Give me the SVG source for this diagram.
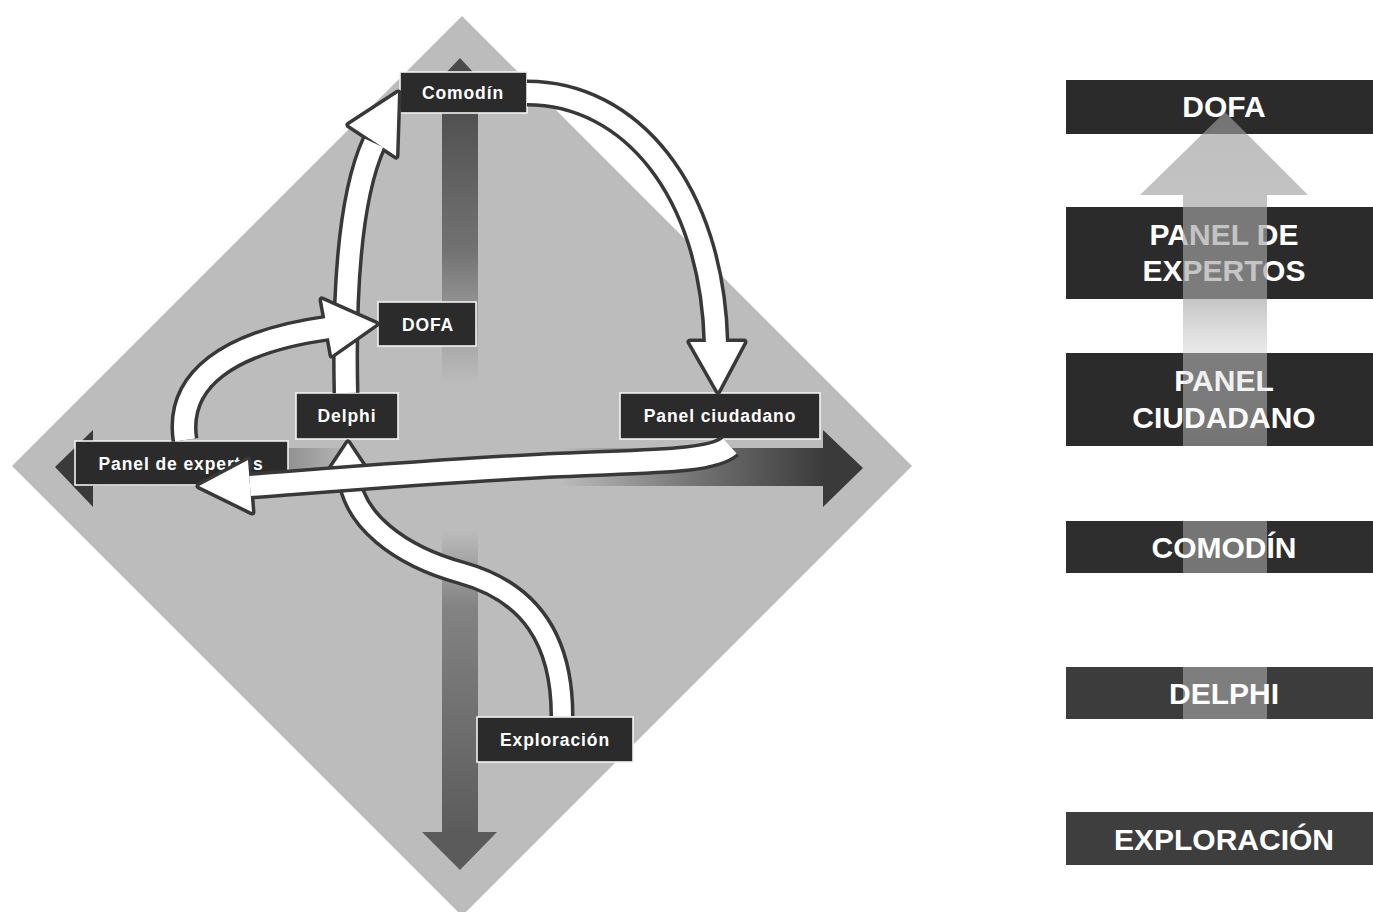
<svg xmlns="http://www.w3.org/2000/svg" width="1373" height="912" viewBox="0 0 1373 912">
<style>
.lbl rect{fill:#2b2b2b;stroke:#f2f2f2;stroke-width:1.6}
.lbl text{fill:#fff;font-family:"Liberation Sans",Arial,sans-serif;font-weight:bold;font-size:17.5px;letter-spacing:0.9px;text-anchor:middle}
.ol{fill:none;stroke:#383838;stroke-width:27}
.wl{fill:none;stroke:#fff;stroke-width:20}
.hol{fill:#383838;stroke:#383838;stroke-width:7;stroke-linejoin:round}
.hw{fill:#fff}
.bar rect{fill:#2b2b2b}
.bar text{fill:#fff;font-family:"Liberation Sans",Arial,sans-serif;font-weight:bold;font-size:30px;text-anchor:middle}
</style>
<defs>
<linearGradient id="gvTop" gradientUnits="userSpaceOnUse" x1="0" y1="90" x2="0" y2="385">
<stop offset="0" stop-color="#4a4a4a" stop-opacity="1"/>
<stop offset="0.55" stop-color="#5a5a5a" stop-opacity="0.75"/>
<stop offset="1" stop-color="#6a6a6a" stop-opacity="0"/>
</linearGradient>
<linearGradient id="gvBot" gradientUnits="userSpaceOnUse" x1="0" y1="530" x2="0" y2="835">
<stop offset="0" stop-color="#4a4a4a" stop-opacity="0"/>
<stop offset="0.25" stop-color="#4a4a4a" stop-opacity="0.5"/>
<stop offset="1" stop-color="#4a4a4a" stop-opacity="0.85"/>
</linearGradient>
<linearGradient id="ghRight" gradientUnits="userSpaceOnUse" x1="560" y1="0" x2="825" y2="0">
<stop offset="0" stop-color="#3a3a3a" stop-opacity="0"/>
<stop offset="0.5" stop-color="#3a3a3a" stop-opacity="0.55"/>
<stop offset="1" stop-color="#3a3a3a" stop-opacity="1"/>
</linearGradient>
<linearGradient id="ghLeft" gradientUnits="userSpaceOnUse" x1="93" y1="0" x2="355" y2="0">
<stop offset="0" stop-color="#3a3a3a" stop-opacity="1"/>
<stop offset="0.6" stop-color="#4a4a4a" stop-opacity="0.6"/>
<stop offset="1" stop-color="#4a4a4a" stop-opacity="0"/>
</linearGradient>
<linearGradient id="gUp" gradientUnits="userSpaceOnUse" x1="0" y1="112" x2="0" y2="720">
<stop offset="0" stop-color="#9c9c9c" stop-opacity="0.65"/>
<stop offset="0.31" stop-color="#a8a8a8" stop-opacity="0.65"/>
<stop offset="0.39" stop-color="#d0d0d0" stop-opacity="0.5"/>
<stop offset="0.56" stop-color="#ffffff" stop-opacity="0.34"/>
<stop offset="1" stop-color="#ffffff" stop-opacity="0.34"/>
</linearGradient>
</defs>
<rect width="1373" height="912" fill="#ffffff"/>

<polygon id="diamond" points="462,16 912,466 462,916 12,466" fill="#bcbcbc"/>

<g id="axes">
<polygon points="460,58 497,98 478,98 478,385 442,385 442,98 422,98" fill="url(#gvTop)"/>
<polygon points="442,530 478,530 478,832 497,832 460,870 422,832 442,832" fill="url(#gvBot)"/>
<polygon points="560,448 823,448 823,430 863,468 823,507 823,486 560,486" fill="url(#ghRight)"/>
<polygon points="355,448 93,448 93,430 55,467 93,507 93,486 355,486" fill="url(#ghLeft)"/>
</g>

<g id="node-comodin" class="lbl"><rect x="400" y="72" width="127" height="41"/><text x="463" y="99">Comodín</text></g>
<g id="node-dofa" class="lbl"><rect x="378" y="302" width="98" height="44"/><text x="428" y="331">DOFA</text></g>
<g id="node-delphi" class="lbl"><rect x="296" y="393" width="102" height="46"/><text x="347" y="422">Delphi</text></g>
<g id="node-exploracion" class="lbl"><rect x="477" y="717" width="156" height="45"/><text x="555" y="746">Exploración</text></g>
<g id="node-panel-expertos" class="lbl"><rect x="75" y="441" width="213" height="44"/><text x="181" y="470">Panel de expertos</text></g>
<g id="node-panel-ciudadano" class="lbl"><rect x="620" y="393" width="200" height="46"/><text x="720" y="422">Panel ciudadano</text></g>

<g id="connectors">
<g id="c-exploracion-delphi">
<path class="ol" style="stroke-width:25" d="M 562 716 C 562 640, 530 592, 462 573 C 400 556, 352 520, 349 474"/>
<polygon class="hol" points="348,443 370,476 326,476"/>
<path class="wl" style="stroke-width:18" d="M 562 716 C 562 640, 530 592, 462 573 C 400 556, 352 520, 349 474"/>
<polygon class="hw" points="348,443 370,476 326,476"/>
</g>
<g id="c-delphi-comodin">
<path class="ol" d="M 346 393 C 344 300, 348 200, 374 143"/>
<polygon class="hol" points="398,93 349,125 396,156"/>
<path class="wl" d="M 346 393 C 344 300, 348 200, 374 143"/>
<polygon class="hw" points="398,93 349,125 396,156"/>
</g>
<g id="c-expertos-dofa">
<path class="ol" d="M 185 440 C 176 380, 228 342, 328 328"/>
<polygon class="hol" points="376,324 322,300 332,355"/>
<path class="wl" d="M 185 440 C 176 380, 228 342, 328 328"/>
<polygon class="hw" points="376,324 322,300 332,355"/>
</g>
<g id="c-comodin-ciudadano">
<path class="ol" d="M 527 93 C 630 93, 712 190, 716 343"/>
<polygon class="hol" points="718,391 690,342 744,342"/>
<path class="wl" d="M 527 93 C 630 93, 712 190, 716 343"/>
<polygon class="hw" points="718,391 690,342 744,342"/>
</g>
<g id="c-ciudadano-expertos">
<path class="ol" d="M 730 446 C 712 462, 650 461, 560 465 C 450 470, 330 480, 250 486"/>
<polygon class="hol" points="199,486 248,460 252,512"/>
<path class="wl" d="M 730 446 C 712 462, 650 461, 560 465 C 450 470, 330 480, 250 486"/>
<polygon class="hw" points="199,486 248,460 252,512"/>
</g>
</g>

<g id="legend">
<g id="bar-dofa" class="bar"><rect x="1066" y="80" width="307" height="54"/><text x="1224" y="117">DOFA</text></g>
<g id="bar-panel-expertos" class="bar"><rect x="1066" y="207" width="307" height="92"/><text x="1224" y="245">PANEL DE</text><text x="1224" y="281">EXPERTOS</text></g>
<g id="bar-panel-ciudadano" class="bar"><rect x="1066" y="353" width="307" height="93"/><text x="1224" y="391">PANEL</text><text x="1224" y="428">CIUDADANO</text></g>
<g id="bar-comodin" class="bar"><rect x="1066" y="521" width="307" height="52" style="fill:#2e2e2e"/><text x="1224" y="558">COMODÍN</text></g>
<g id="bar-delphi" class="bar"><rect x="1066" y="667" width="307" height="52" style="fill:#3c3c3c"/><text x="1224" y="704">DELPHI</text></g>
<g id="bar-exploracion" class="bar"><rect x="1066" y="812" width="307" height="53" style="fill:#3e3e3e"/><text x="1224" y="850">EXPLORACIÓN</text></g>
<polygon id="legend-arrow" points="1225,112 1308,195 1267,195 1267,720 1183,720 1183,195 1140,195" fill="url(#gUp)"/>
</g>
</svg>
